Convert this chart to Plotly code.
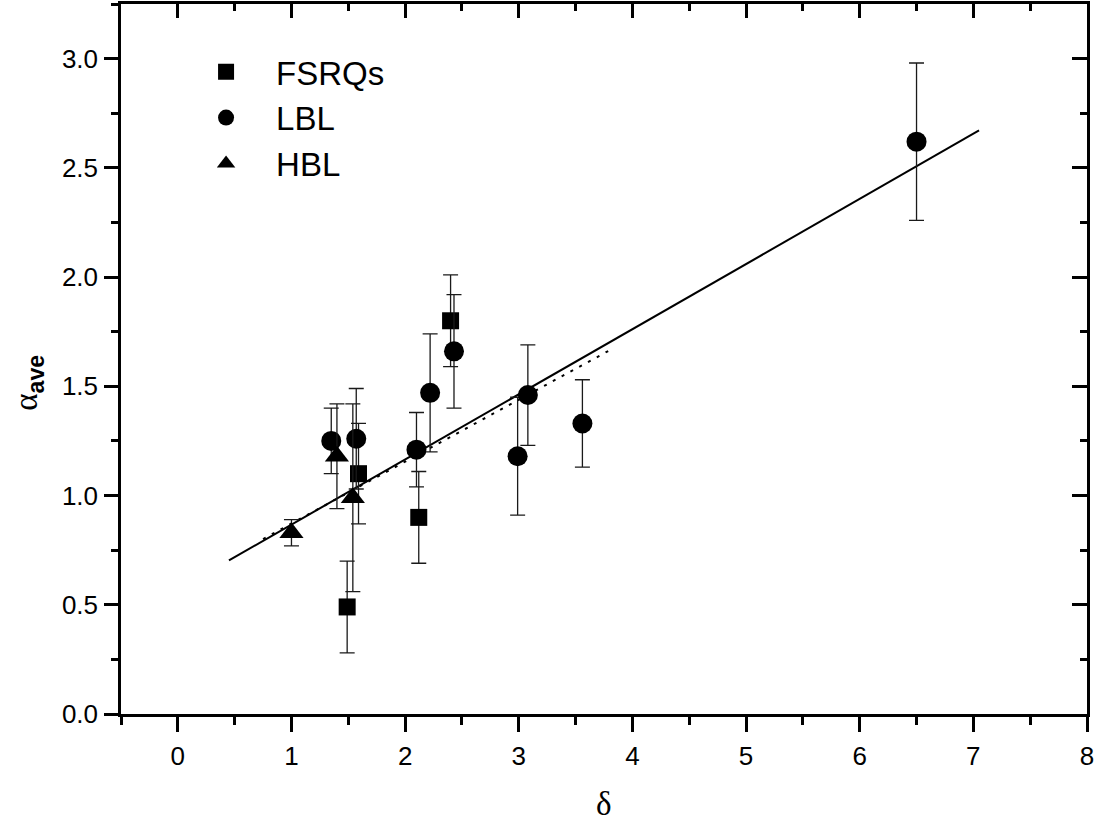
import plotly.graph_objects as go

# ---- data ----
fsrq_x = [1.49, 1.59, 2.12, 2.40]
fsrq_y = [0.49, 1.10, 0.90, 1.80]
fsrq_err = [0.21, 0.23, 0.21, 0.21]

lbl_x = [1.35, 1.57, 2.10, 2.22, 2.43, 2.99, 3.08, 3.56, 6.50]
lbl_y = [1.25, 1.26, 1.21, 1.47, 1.66, 1.18, 1.46, 1.33, 2.62]
lbl_err = [0.15, 0.23, 0.17, 0.27, 0.26, 0.27, 0.23, 0.20, 0.36]

hbl_x = [1.00, 1.40, 1.54]
hbl_y = [0.83, 1.18, 0.99]
hbl_err = [0.06, 0.24, 0.43]

fit_all_x = [0.45, 7.05]
fit_all_y = [0.703, 2.671]
fit_sub_x = [0.75, 3.81]
fit_sub_y = [0.801, 1.668]

x_range = [-0.5, 8]
y_range = [0, 3.25]
x_ticks = [0, 1, 2, 3, 4, 5, 6, 7, 8]
y_ticks = [0.0, 0.5, 1.0, 1.5, 2.0, 2.5, 3.0]

AX_W = 2.5
font_sans = "Liberation Sans, Arial, sans-serif"
font_serif = "Liberation Serif, Times New Roman, serif"


def err(vals):
    return dict(type="data", array=vals, visible=True, color="#1a1a1a",
                thickness=1.3, width=7.5)


fig = go.Figure()

fig.add_trace(go.Scatter(x=fit_all_x, y=fit_all_y, mode="lines",
                         line=dict(color="black", width=2), showlegend=False,
                         hoverinfo="skip"))
fig.add_trace(go.Scatter(x=fit_sub_x, y=fit_sub_y, mode="lines",
                         line=dict(color="black", width=2, dash="3px,7px"),
                         showlegend=False, hoverinfo="skip"))

fig.add_trace(go.Scatter(x=fsrq_x, y=fsrq_y, mode="markers", name="FSRQs",
                         marker=dict(symbol="square", size=17, color="black"),
                         error_y=err(fsrq_err)))
fig.add_trace(go.Scatter(x=lbl_x, y=lbl_y, mode="markers", name="LBL",
                         marker=dict(symbol="circle", size=20, color="black"),
                         error_y=err(lbl_err)))
fig.add_trace(go.Scatter(x=hbl_x, y=hbl_y, mode="markers", name="HBL",
                         marker=dict(symbol="triangle-up", size=21, color="black"),
                         error_y=err(hbl_err)))

# dummy trace to activate mirrored (top/right) axes
fig.add_trace(go.Scatter(x=[None], y=[None], xaxis="x2", yaxis="y2",
                         showlegend=False, hoverinfo="skip"))

common = dict(showgrid=False, zeroline=False, showline=True, linecolor="black",
              linewidth=AX_W, tickcolor="black", tickwidth=AX_W)

fig.update_layout(
    width=1098, height=827,
    margin=dict(l=121, r=11, t=4, b=113),
    paper_bgcolor="white", plot_bgcolor="white",
    font=dict(family=font_sans, size=26, color="black"),
    xaxis=dict(range=x_range, tickmode="array", tickvals=x_ticks,
               ticks="outside", ticklen=15, ticklabelstandoff=2,
               minor=dict(ticks="outside", ticklen=8, dtick=0.5, tick0=0,
                          tickcolor="black", tickwidth=AX_W),
               tickfont=dict(family=font_sans, size=26), **common),
    yaxis=dict(range=y_range, tickmode="array", tickvals=y_ticks,
               tickformat=".1f", ticks="outside", ticklen=14,
               ticklabelstandoff=1,
               minor=dict(ticks="outside", ticklen=7, dtick=0.25, tick0=0,
                          tickcolor="black", tickwidth=AX_W),
               tickfont=dict(family=font_sans, size=26), **common),
    xaxis2=dict(range=x_range, overlaying="x", side="top", anchor="y",
                tickmode="array", tickvals=x_ticks, ticks="inside", ticklen=14,
                showticklabels=False,
                minor=dict(ticks="inside", ticklen=7, dtick=0.5, tick0=0,
                           tickcolor="black", tickwidth=AX_W), **common),
    yaxis2=dict(range=y_range, overlaying="y", side="right", anchor="x",
                tickmode="array", tickvals=y_ticks, ticks="inside", ticklen=15,
                showticklabels=False,
                minor=dict(ticks="inside", ticklen=7, dtick=0.25, tick0=0,
                           tickcolor="black", tickwidth=AX_W), **common),
    legend=dict(x=0.057, y=0.944, xanchor="left", yanchor="top",
                bgcolor="rgba(0,0,0,0)", borderwidth=0, itemwidth=90,
                font=dict(family=font_sans, size=33, color="black")),
    annotations=[
        dict(text="δ", xref="paper", yref="paper", x=0.5, y=-0.155,
             xanchor="center", yanchor="bottom", showarrow=False,
             font=dict(family=font_serif, size=33, color="black")),
        dict(text="<span style='font-family:Liberation Serif'>α</span>"
                  "<sub><b>ave</b></sub>",
             xref="paper", yref="paper", x=-0.096, y=0.467,
             xanchor="center", yanchor="middle", textangle=-90,
             showarrow=False,
             font=dict(family=font_sans, size=33, color="black")),
    ],
)

fig.write_html("out.html")
